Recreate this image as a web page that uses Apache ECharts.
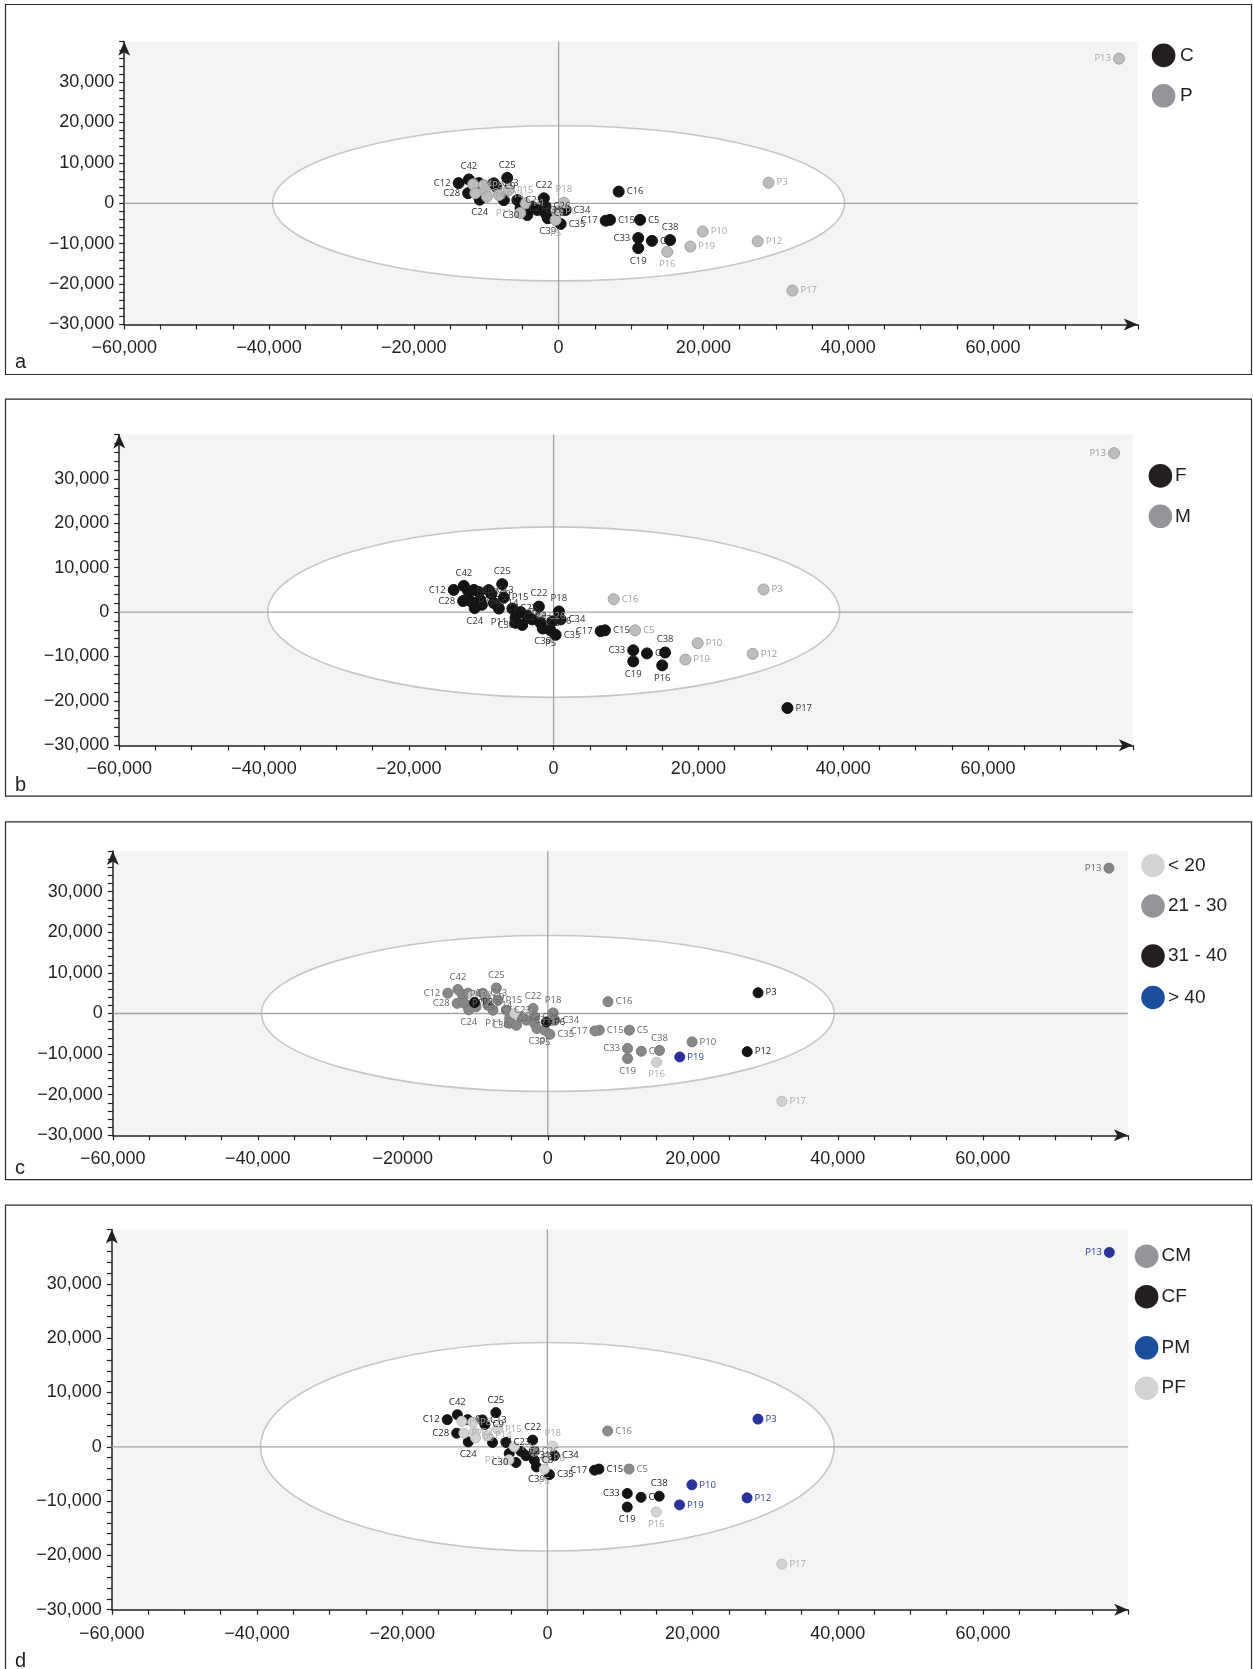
<!DOCTYPE html>
<html><head><meta charset="utf-8">
<script src="https://cdn.jsdelivr.net/npm/echarts@6/dist/echarts.min.js"></script>
<style>html,body{margin:0;padding:0;background:#fff}#c{width:1253px;height:1669px}</style>
</head><body><div id="c"></div>
<script>
// ---------- data ----------
const names = ['P13','P3','C16','C15','C17','C5','C33','C19','C','C38','P16','P19','P10','P12','P17',
  'C12','C42','P4','C3','P8','C13','C9','C25','C28','P7','P2','P9','C24','P14','C7','P15','C23','P1','C27','P11','C30','C2','C31','C22','C26','C8','C39','P18','P6','C34','P5','C35'];
const xs = [77400,29000,8300,7100,6500,11250,11000,11000,12900,15400,15000,18200,19900,27500,32300,
  -13800,-12400,-11800,-11000,-10300,-8950,-8600,-7100,-12500,-11500,-10100,-9900,-10900,-8250,-7560,-6870,-5700,-4560,-5260,-5300,-4330,-3640,-2950,-2030,-1800,-1800,-1500,730,-180,970,-420,280];
const ys = [35800,5100,2900,-4100,-4300,-4100,-8600,-11100,-9300,-9100,-12000,-10700,-7000,-9400,-21600,
  5000,5900,4700,5000,4500,4950,4100,6300,2500,2500,2700,1650,900,2050,800,3300,800,0,-1240,-2400,-2900,-840,-1650,1240,-840,-2480,-3700,150,-2080,-1650,-4130,-5120];
const sexes = ['M','M','M','F','F','M','F','F','F','F','F','M','M','M','F',
  'F','F','F','F','F','F','F','F','F','F','F','F','F','F','F','F','F','F','F','F','F','F','F','F','M','F','F','F','F','F','F','F'];
const ages = ['21 - 30','31 - 40','21 - 30','21 - 30','21 - 30','21 - 30','21 - 30','21 - 30','21 - 30','21 - 30','< 20','> 40','21 - 30','31 - 40','< 20',
  '21 - 30','21 - 30','21 - 30','21 - 30','< 20','21 - 30','21 - 30','21 - 30','21 - 30','21 - 30','31 - 40','21 - 30','21 - 30','21 - 30','21 - 30','21 - 30','21 - 30','< 20','21 - 30','21 - 30','21 - 30','21 - 30','21 - 30','21 - 30','21 - 30','21 - 30','21 - 30','21 - 30','31 - 40','21 - 30','21 - 30','21 - 30'];

const catsA = ['C','P'];
const catsB = ['F','M'];
const catsC = ['< 20','21 - 30','31 - 40','> 40'];
const catsD = ['CM','CF','PM','PF'];

const xTickValues = [-60000,-40000,-20000,0,20000,40000,60000];
const xTickLabels = ['\u221260,000','\u221240,000','\u221220,000','0','20,000','40,000','60,000'];
const xTickLabelsC = ['\u221260,000','\u221240,000','\u221220000','0','20,000','40,000','60,000'];
const yTickValues = [-30000,-20000,-10000,0,10000,20000,30000];
const yTickLabels = ['\u221230,000','\u221220,000','\u221210,000','0','10,000','20,000','30,000'];

const X_MIN = -60000, X_MAX = 80000, Y_MIN = -30000, Y_MAX = 40000;
const ELLIPSE = {cx: 0, cy: 0, rx: 39500, ry: 19200};

// ---------- styles ----------
const FONT = 'Liberation Sans';
const panels = [
  {letter:'a', cats:catsA, key:i=>names[i][0], xl:xTickLabels,
   grid:{left:124.2, top:41.7, width:1013.6, height:282.8}, frame:[5.5,4.5,1246,370], letterY:362,
   fill:['#141414','#bdbdbd'], border:['#141414','#a2a2a2'], lab:['#333','#a8a8a8'], order:[0,1], size:11,
   leg:{x:1163.6, tx:1180, ys:[55.4,95.8], colors:['#231f20','#939598']}},
  {letter:'b', cats:catsB, key:i=>sexes[i], xl:xTickLabels,
   grid:{left:119.2, top:434.5, width:1013.6, height:310.8}, frame:[5.5,399.2,1246,397], letterY:785,
   fill:['#141414','#bdbdbd'], border:['#141414','#a2a2a2'], lab:['#333','#9a9a9a'], order:[1,0], size:11,
   leg:{x:1160.4, tx:1175, ys:[475.9,516.3], colors:['#231f20','#939598']}},
  {letter:'c', cats:catsC, key:i=>ages[i], xl:xTickLabelsC,
   grid:{left:112.8, top:851.1, width:1015, height:284.2}, frame:[5.5,821.9,1246,357.7], letterY:1168,
   fill:['#d0d0d0','#878787','#141414','#2a2f9c'], border:['#bdbdbd','#7a7a7a','#141414','#2a2f9c'], lab:['#aaa','#666','#222','#2b3a9a'], order:[1,0,2,3], size:10,
   leg:{x:1153, tx:1168, ys:[865.5,906,956,997.5], colors:['#d1d3d4','#939598','#231f20','#1c4e9d']}},
  {letter:'d', cats:catsD, key:i=>names[i][0]+sexes[i], xl:xTickLabels,
   grid:{left:111.8, top:1229.6, width:1016.4, height:380.1}, frame:[5.5,1205.1,1246,500], letterY:1661,
   fill:['#8c8c8c','#141414','#2a339c','#d3d3d3'], border:['#7c7c7c','#141414','#2a339c','#bfbfbf'], lab:['#777','#222','#2b3a9a','#aaa'], order:[1,0,3,2], size:10,
   leg:{x:1146.6, tx:1161.5, ys:[1256.2,1296.7,1347.8,1388.2], colors:['#939598','#231f20','#1c4e9d','#d1d3d4']}}
];
const labelPos = {C12:'left',C42:'top',C25:'top',C28:'left',C30:'left',C22:'top',C39:'bottom',P5:'bottom',
  C38:'top',C33:'left',C19:'bottom',P16:'bottom',C17:'left',P11:'left',P13:'left',C24:'bottom',P18:'top'};

// ---------- build ----------
const grids = [], xAxes = [], yAxes = [], series = [], graphics = [];
const axisLineStyle = {color:'#231f20', width:1.5};
panels.forEach((p, pi) => {
  grids.push(Object.assign({show:true, backgroundColor:'#f3f5f5', borderWidth:0, containLabel:false, outerBoundsMode:'none'}, p.grid));
  xAxes.push({gridIndex:pi, type:'value', min:X_MIN, max:X_MAX, interval:5000,
    axisLine:{onZero:false, lineStyle:axisLineStyle, symbol:['none','arrow'], symbolSize:[9,14]},
    axisTick:{show:true, interval:0, length:5, lineStyle:{color:'#231f20', width:1.2}},
    splitLine:{show:false},
    axisLabel:{interval:0, margin:15, fontSize:18, color:'#231f20', fontFamily:FONT,
      formatter:v => { const k = xTickValues.indexOf(Math.round(v)); return k >= 0 ? p.xl[k] : ''; }}});
  yAxes.push({gridIndex:pi, type:'value', min:Y_MIN, max:Y_MAX, interval:2000,
    axisLine:{onZero:false, lineStyle:axisLineStyle, symbol:['none','arrow'], symbolSize:[9,14]},
    axisTick:{show:true, interval:0, length:5, lineStyle:{color:'#231f20', width:1.2}},
    splitLine:{show:false},
    axisLabel:{interval:0, margin:10, fontSize:18, color:'#231f20', fontFamily:FONT,
      formatter:v => { const k = yTickValues.indexOf(Math.round(v)); return k >= 0 ? yTickLabels[k] : ''; }}});
  // confidence ellipse and zero lines
  series.push({type:'custom', xAxisIndex:pi, yAxisIndex:pi, silent:true, z:1, clip:false,
    data:[[ELLIPSE.cx, ELLIPSE.cy]],
    renderItem:(params, api) => {
      const c = api.coord([ELLIPSE.cx, ELLIPSE.cy]);
      const s = api.size([ELLIPSE.rx, ELLIPSE.ry]);
      const o = api.coord([0, 0]);
      const cs = params.coordSys;
      return {type:'group', children:[
        {type:'ellipse', shape:{cx:c[0], cy:c[1], rx:s[0], ry:s[1]}, style:{fill:'#ffffff', stroke:'#c6c6c6', lineWidth:1.6}},
        {type:'line', shape:{x1:cs.x, y1:o[1], x2:cs.x+cs.width, y2:o[1]}, style:{stroke:'#a3a3a3', lineWidth:1.3}},
        {type:'line', shape:{x1:o[0], y1:cs.y, x2:o[0], y2:cs.y+cs.height}, style:{stroke:'#a3a3a3', lineWidth:1.3}}
      ]};
    }});
  p.order.forEach(ci => {
    const cat = p.cats[ci];
    const data = [];
    names.forEach((n, i) => {
      if (p.key(i) !== cat) return;
      data.push({name:n, value:[xs[i], ys[i]], label:{position:labelPos[n] || 'right'}});
    });
    series.push({type:'scatter', name:cat, xAxisIndex:pi, yAxisIndex:pi, z:3, symbolSize:p.size,
      itemStyle:{color:p.fill[ci], borderColor:p.border[ci], borderWidth:1, opacity:1},
      label:{show:true, formatter:'{b}', fontSize:9.5, fontFamily:'Open Sans', color:p.lab[ci], distance:2},
      emphasis:{disabled:true}, data});
  });
  // frame
  graphics.push({type:'rect', shape:{x:p.frame[0], y:p.frame[1], width:p.frame[2], height:p.frame[3]},
    style:{fill:'none', stroke:'#2b2b2b', lineWidth:1.2}, z:0, silent:true});
  graphics.push({type:'text', x:15, y:p.letterY, style:{text:p.letter, font:'20px "Liberation Sans"', fill:'#231f20', textVerticalAlign:'middle'}, z:10});
  // legend
  p.cats.forEach((cat, ci) => {
    graphics.push({type:'circle', shape:{cx:p.leg.x, cy:p.leg.ys[ci], r:11.8}, style:{fill:p.leg.colors[ci]}, z:10});
    graphics.push({type:'text', x:p.leg.tx, y:p.leg.ys[ci], style:{text:cat, font:'19px "Liberation Sans"', fill:'#231f20', textVerticalAlign:'middle'}, z:10});
  });
});

const chart = echarts.init(document.getElementById('c'), null, {renderer:'canvas'});
chart.setOption({animation:false, backgroundColor:'#ffffff', grid:grids, xAxis:xAxes, yAxis:yAxes, series, graphic:graphics});
</script>
</body></html>
